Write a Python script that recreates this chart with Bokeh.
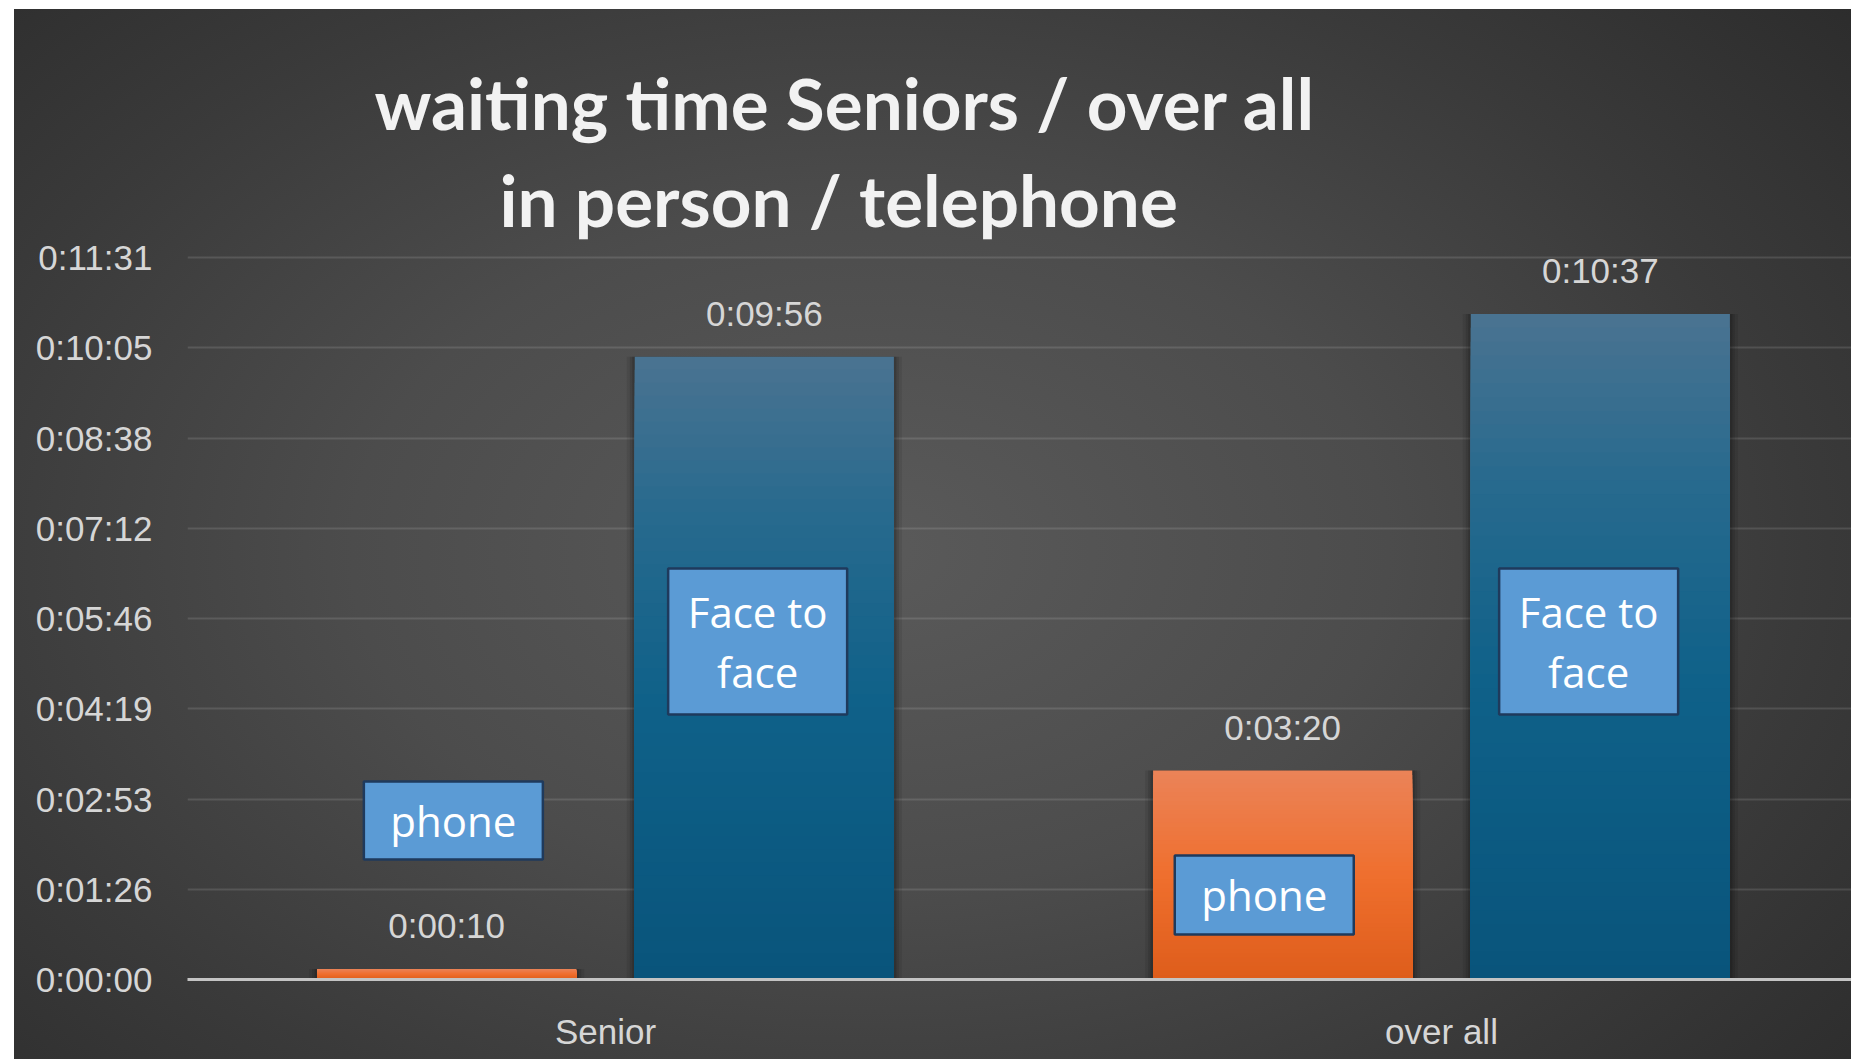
from bokeh.plotting import figure
from bokeh.models import (Range1d, FixedTicker, CustomJSTickFormatter, ColumnDataSource,
                          LabelSet, Title, InlineStyleSheet)
from bokeh.core.properties import value
from bokeh.embed import file_html
from bokeh.resources import INLINE

# ---------------- data ----------------
categories = ["Senior", "over all"]
phone_seconds = [10, 200]        # 0:00:10, 0:03:20
face_seconds = [596, 637]        # 0:09:56, 0:10:37
y_ticks_seconds = [0, 86.375, 172.75, 259.125, 345.5, 431.875, 518.25, 604.625, 691]
y_tick_labels = ["0:00:00", "0:01:26", "0:02:53", "0:04:19", "0:05:46",
                 "0:07:12", "0:08:38", "0:10:05", "0:11:31"]
title_lines = ["waiting time Seniors / over all", "in person / telephone"]
series_names = ["phone", "Face to\nface"]

# ---------------- layout / style ----------------
W, H = 1851, 1059
B_LEFT, B_TOP, B_BOTTOM = 187, 255, 80
PX_PER_CAT = 836.0
PX_PER_SEC = 722.0 / 691.0
X_END = (W - B_LEFT) / PX_PER_CAT
Y_MAX = y_ticks_seconds[-1]
Y_END = Y_MAX + 2 / PX_PER_SEC
BAR_W = 0.31
DODGE = 0.19
N_SLICES = 48

blue_stops = [(0.0, "#09547b"), (0.45, "#0f6189"), (0.75, "#286a8e"), (1.0, "#4a7391")]
orange_stops = [(0.0, "#de5d1b"), (0.5, "#ef6f2e"), (1.0, "#eb8358")]


def fmt_hms(s):
    s = int(round(s))
    return f"{s // 3600}:{(s % 3600) // 60:02d}:{s % 60:02d}"


def hex2rgb(h):
    h = h.lstrip("#")
    return tuple(int(h[i:i + 2], 16) for i in (0, 2, 4))


def grad_color(stops, t):
    for (t0, c0), (t1, c1) in zip(stops[:-1], stops[1:]):
        if t <= t1:
            f = 0 if t1 == t0 else (t - t0) / (t1 - t0)
            a, b = hex2rgb(c0), hex2rgb(c1)
            return "#%02x%02x%02x" % tuple(int(round(a[k] + (b[k] - a[k]) * f)) for k in range(3))
    return stops[-1][1]


cat_x = [i + 0.5 for i in range(len(categories))]
phone_x = [c - DODGE for c in cat_x]
face_x = [c + DODGE for c in cat_x]

p = figure(width=W, height=H, output_backend="svg", toolbar_location=None, title=None,
           x_range=Range1d(0, X_END), y_range=Range1d(0, Y_END),
           min_border_left=B_LEFT, min_border_top=B_TOP, min_border_bottom=B_BOTTOM,
           min_border_right=0)
p.border_fill_color = None
p.background_fill_color = None
p.outline_line_color = None
p.stylesheets = [InlineStyleSheet(css="""
:host {
  background:
    linear-gradient(to right, #ffffff 0px, #ffffff 14px, transparent 14px),
    linear-gradient(to bottom, #ffffff 0px, #ffffff 9px, transparent 9px),
    radial-gradient(ellipse 70% 80% at 47% 52%, #5a5a5a 0%, #4c4c4c 40%, #3a3a3a 72%, #2c2c2c 100%);
}
""")]

# shadows behind bars
all_x = phone_x + face_x
all_top = phone_seconds + face_seconds
shadow_src = ColumnDataSource(dict(x=all_x, top=all_top))
for extra, alpha in [(16, 0.08), (10, 0.10), (5, 0.14)]:
    p.vbar(x="x", top="top", bottom=0, width=BAR_W + extra / PX_PER_CAT, source=shadow_src,
           fill_color="black", fill_alpha=alpha, line_color=None)


def gradient_bars(xs, vals, stops):
    xx, tops, cols = [], [], []
    for k in range(N_SLICES, 0, -1):
        frac = k / N_SLICES
        col = grad_color(stops, (k - 0.5) / N_SLICES)
        for x, v in zip(xs, vals):
            xx.append(x)
            tops.append(v * frac)
            cols.append(col)
    src = ColumnDataSource(dict(x=xx, top=tops, color=cols))
    p.vbar(x="x", top="top", bottom=0, width=BAR_W, source=src,
           fill_color="color", line_color=None)


gradient_bars(phone_x, phone_seconds, orange_stops)
gradient_bars(face_x, face_seconds, blue_stops)

# value labels
lab_src = ColumnDataSource(dict(x=phone_x + face_x, y=phone_seconds + face_seconds,
                                text=[fmt_hms(v) for v in phone_seconds + face_seconds]))
p.add_layout(LabelSet(x="x", y="y", text="text", source=lab_src, text_align="center",
                      text_baseline="alphabetic", y_offset=31, text_color="#d6d6d6",
                      text_font=value("Liberation Sans"), text_font_size="35px"))

# callout boxes (annotation layout, in axis units)
BOX_W = 179 / PX_PER_CAT
callouts = dict(
    text=["phone", "Face to\nface", "phone", "Face to\nface"],
    xc=[0.318, 0.682, 1.288, 1.676],
    y0=[114.8, 253.6, 43.1, 253.6],
    y1=[189.5, 393.3, 118.7, 393.3],
)
cs = ColumnDataSource(dict(
    left=[x - BOX_W / 2 for x in callouts["xc"]], right=[x + BOX_W / 2 for x in callouts["xc"]],
    bottom=callouts["y0"], top=callouts["y1"], x=callouts["xc"],
    y=[(a + b) / 2 for a, b in zip(callouts["y0"], callouts["y1"])], text=callouts["text"]))
p.quad(left="left", right="right", bottom="bottom", top="top", source=cs,
       fill_color="#5b9bd5", line_color="#1f3a5c", line_width=2.5)
p.text(x="x", y="y", text="text", source=cs, text_align="center", text_baseline="middle",
       text_color="white", text_font=value("Open Sans"), text_font_size="42px",
       text_line_height=1.05)

# axes
p.xaxis.ticker = FixedTicker(ticks=cat_x)
p.xaxis.formatter = CustomJSTickFormatter(args=dict(vals=cat_x, labels=categories), code="""
let b = 0; for (let i = 0; i < vals.length; i++) { if (Math.abs(vals[i]-tick) < Math.abs(vals[b]-tick)) b = i }
return labels[b]""")
p.yaxis.ticker = FixedTicker(ticks=y_ticks_seconds)
p.yaxis.formatter = CustomJSTickFormatter(args=dict(vals=y_ticks_seconds, labels=y_tick_labels), code="""
let b = 0; for (let i = 0; i < vals.length; i++) { if (Math.abs(vals[i]-tick) < Math.abs(vals[b]-tick)) b = i }
return labels[b]""")
for ax in (p.xaxis, p.yaxis):
    ax.major_tick_line_color = None
    ax.minor_tick_line_color = None
    ax.major_label_text_color = "#d6d6d6"
    ax.major_label_text_font = "Liberation Sans"
    ax.major_label_text_font_size = "35px"
p.yaxis.axis_line_color = None
p.yaxis.major_label_standoff = 29
p.xaxis.axis_line_color = "#c4c4c4"
p.xaxis.axis_line_width = 3
p.xaxis.major_label_standoff = 26
p.xgrid.grid_line_color = None
p.ygrid.grid_line_color = "white"
p.ygrid.grid_line_alpha = 0.12
p.ygrid.grid_line_width = 2

# title: two lines, second line nearest to the plot
for line, off, so in [(title_lines[1], 312, 28), (title_lines[0], 187, -8)]:
    p.add_layout(Title(text=line, align="left", offset=off, standoff=so,
                       text_color="#f2f2f2", text_font="Lato", text_font_style="bold",
                       text_font_size="71px"), "above")

open("out.html", "w").write(file_html(p, INLINE))
